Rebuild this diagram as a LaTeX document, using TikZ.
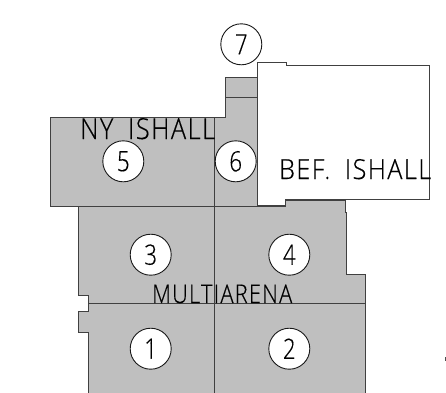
\documentclass[tikz,border=0pt]{standalone}
\usepackage{fontspec}
\setmainfont[FakeBold=0.35,LetterSpace=6,WordSpace=1.8]{Open Sans Light}
\newcommand{\narrowdigit}[1]{\scalebox{0.8}[1]{#1}}
\tikzset{
  x=1pt,y=-1pt,
  wall/.style={draw=black!75,line width=1pt},
  num/.style={circle,draw=black!90,fill=white,line width=0.9pt,minimum size=41pt,inner sep=0pt,font=\fontsize{28}{28}\selectfont},
  lab/.style={inner sep=0pt,text=black,anchor=base west}
}
\begin{document}
\begin{tikzpicture}
\useasboundingbox (0,0) rectangle (446,392);
\clip (0,0) rectangle (446,392);
\fill[white] (0,0) rectangle (446,392);
\filldraw[fill=black!25,wall] (50,117) -- (225,117) -- (225,77) -- (258,77) -- (258,206) -- (285,206) -- (285,200) -- (345.7,200) -- (345.7,212) -- (346.3,212) -- (346.3,274) -- (365,274) -- (365,400) -- (88,400) -- (88,332.3) -- (78.3,332.3) -- (78.3,311.7) -- (88,311.7) -- (88,295) -- (78.3,295) -- (78.3,206) -- (50,206) -- cycle;
\draw[wall] (225,97.7) -- (258,97.7);
\draw[wall] (50,206) -- (258,206);
\draw[wall] (88,303.7) -- (365,303.7);
\draw[wall] (214,117) -- (214,400);
\filldraw[fill=white,wall] (257.7,62.7) -- (286,62.7) -- (286,65) -- (429.3,65) -- (429.3,199.7) -- (285,199.7) -- (285,205.7) -- (257.7,205.7) -- cycle;
\node[num] (n7) at (241.3,44.3) {\narrowdigit{7}};
\node[num] (n5) at (123.3,161.3) {\narrowdigit{5}};
\node[num] (n6) at (235.7,161.3) {\narrowdigit{6}};
\node[num] (n3) at (150.7,254.7) {\narrowdigit{3}};
\node[num] (n4) at (289.3,254.7) {\narrowdigit{4}};
\node[num] (n1) at (150.7,348.7) {\narrowdigit{1}};
\node[num] (n2) at (289.3,348.7) {\narrowdigit{2}};
\node[lab] (ny) at (80,139) {\fontsize{29}{29}\selectfont\resizebox{135pt}{21pt}{NY ISHALL}};
\node[lab] (bef) at (279,179) {\fontsize{28}{28}\selectfont\resizebox{152pt}{20pt}{BEF. ISHALL}};
\node[lab] (multi) at (152,303) {\fontsize{26}{26}\selectfont\resizebox{140pt}{18.5pt}{MULTIARENA}};
\draw[line width=1pt,black!70] (445.5,357) -- (445.5,361);
\end{tikzpicture}
\end{document}
